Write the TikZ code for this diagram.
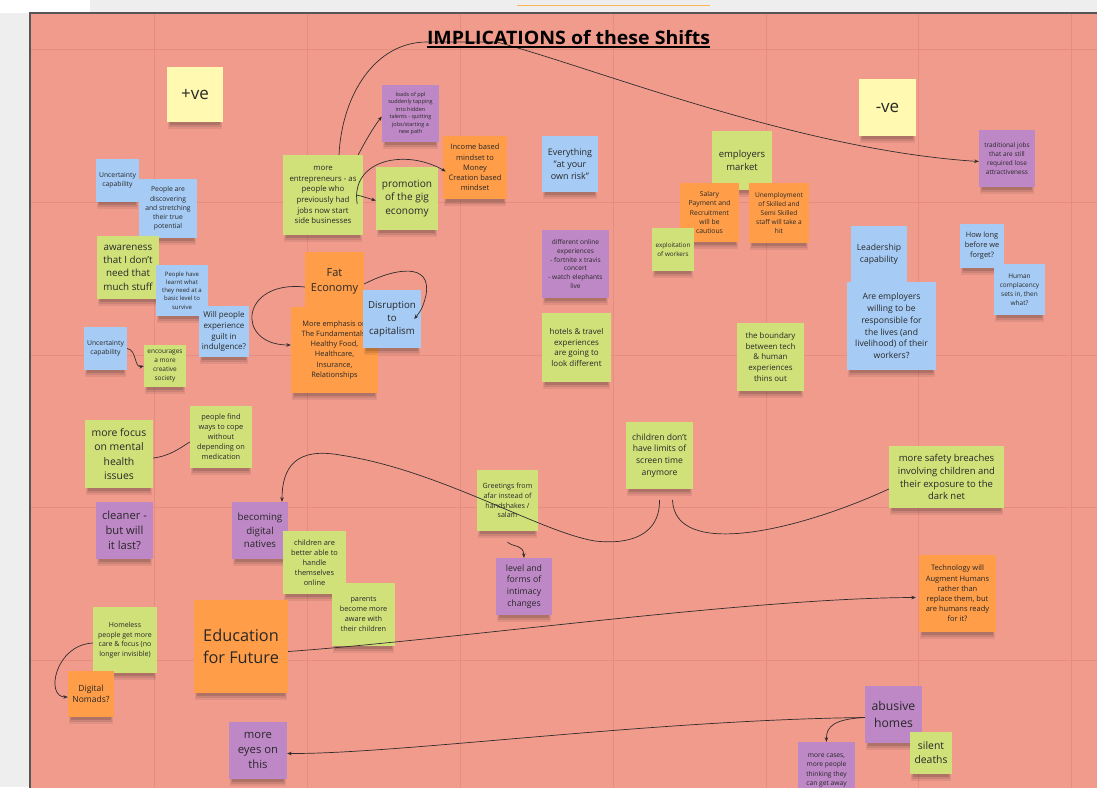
\documentclass[tikz,border=0pt]{standalone}
\usepackage{fontspec}
\usepackage{graphicx}
\setmainfont{Open Sans}
\usetikzlibrary{arrows.meta}
\definecolor{bgred}{RGB}{241,155,140}
\definecolor{gridred}{RGB}{229,142,128}
\definecolor{outgray}{RGB}{238,238,238}
\definecolor{framec}{RGB}{85,85,85}
\definecolor{nyellow}{RGB}{255,249,177}
\definecolor{nblue}{RGB}{166,204,245}
\definecolor{ngreen}{RGB}{208,225,122}
\definecolor{norange}{RGB}{255,157,72}
\definecolor{npurple}{RGB}{190,136,199}
\definecolor{ntext}{RGB}{40,40,40}
\definecolor{linec}{RGB}{50,45,45}
\definecolor{uiorange}{RGB}{255,180,90}
\tikzset{
  notebox/.style={rectangle, inner sep=1pt, align=center, text=ntext},
  conn/.style={draw=linec, line width=0.7pt},
  arr/.style={conn, -{Stealth[length=4.5pt,width=3.6pt]}},
  gridline/.style={draw=gridred, line width=0.8pt},
}
% \snote{name}{colour}{x1}{y1}{x2}{y2}{font size}{text}
\newcommand\snote[8]{%
  \fill[black,opacity=0.07] ({#3+1},{#6-2}) rectangle ({#5-1},{#6+7});
  \fill[black,opacity=0.09] ({#3+2},{#6-2}) rectangle ({#5-2},{#6+5});
  \fill[black,opacity=0.13] ({#3+3},{#6-2}) rectangle ({#5-3},{#6+3});
  \node[notebox, fill=#2, minimum width={#5-#3}, minimum height={#6-#4},
        font={\fontsize{#7}{1.36\dimexpr#7pt\relax}\selectfont}]
        (#1) at ({(#3+#5)/2},{(#4+#6)/2}) {#8};%
}
\begin{document}
\begin{tikzpicture}[x=1pt,y=-1pt]
\useasboundingbox (0,0) rectangle (1097,787);
% canvas surroundings
\fill[outgray] (0,0) rectangle (1097,787);
\fill[white] (0,0) rectangle (90,13);
\draw[uiorange, line width=1.2pt] (517,5.5) -- (710,5.5);
% frame
\fill[bgred] (30,13) rectangle (1100,790);
\foreach \gx in {154,307,460,613,766,918,1071} {\draw[gridline] (\gx,14) -- (\gx,790);}
\foreach \gy in {49,202,355,507,660} {\draw[gridline] (31,\gy) -- (1100,\gy);}
\draw[framec, line width=1.4pt] (30,790) -- (30,13) -- (1100,13);

% ---------- notes ----------
\snote{plus}{nyellow}{167}{67}{223}{122}{17}{+ve}
\snote{minus}{nyellow}{859}{79}{916}{136}{17}{-ve}

\snote{unca}{nblue}{96}{159}{139}{202}{6.8}{Uncertainty\\capability}
\snote{discover}{nblue}{139}{179}{197}{238}{6.8}{People are\\discovering\\and stretching\\their true\\potential}
\snote{aware}{ngreen}{97}{236}{159}{299}{9.8}{awareness\\that I don’t\\need that\\much stuff}
\snote{learnt}{nblue}{156}{265}{208}{316}{6.0}{People have\\learnt what\\they need at a\\basic level to\\survive}
\snote{guilt}{nblue}{199}{306}{249}{357}{8.0}{Will people\\experience\\guilt in\\indulgence?}
\snote{uncb}{nblue}{84}{327}{127}{370}{6.8}{Uncertainty\\capability}
\snote{creative}{ngreen}{144}{345}{186}{387}{6.5}{encourages\\a more\\creative\\society}

\snote{fat}{norange}{305}{252}{364}{310}{11}{Fat\\Economy}
\snote{emph}{norange}{291}{307}{378}{393}{7.4}{More emphasis on\\The Fundamentals:\\Healthy Food,\\Healthcare,\\Insurance,\\Relationships}
\snote{disrupt}{nblue}{363}{290}{421}{348}{9.7}{Disruption\\to\\capitalism}

\snote{loads}{npurple}{382}{85}{439}{142}{5.5}{loads of ppl\\suddenly tapping\\into hidden\\talents - quitting\\jobs/starting a\\new path}
\snote{entre}{ngreen}{283}{155}{363}{235}{7.8}{more\\entrepreneurs - as\\people who\\previously had\\jobs now start\\side businesses}
\snote{gig}{ngreen}{376}{167}{438}{230}{10.1}{promotion\\of the gig\\economy}
\snote{income}{norange}{443}{136}{507}{199}{7.5}{Income based\\mindset to\\Money\\Creation based\\mindset}

\snote{risk}{nblue}{542}{136}{598}{192}{9.0}{Everything\\"at your\\own risk"}
\snote{online}{npurple}{542}{230}{609}{298}{6.6}{different online\\experiences\\- fortnite x travis\\concert\\- watch elephants\\live}
\snote{empm}{ngreen}{712}{131}{772}{190}{9.5}{employers\\market}
\snote{salary}{norange}{680}{183}{739}{242}{6.8}{Salary\\Payment and\\Recruitment\\will be\\cautious}
\snote{unemp}{norange}{749}{183}{809}{243}{6.6}{Unemployment\\of Skilled and\\Semi Skilled\\staff will take a\\hit}
\snote{exploit}{ngreen}{652}{228}{694}{271}{6.3}{exploitation\\of workers}

\snote{trad}{npurple}{979}{130}{1035}{187}{6.5}{traditional jobs\\that are still\\required lose\\attractiveness}
\snote{lead}{nblue}{851}{226}{907}{282}{8.6}{Leadership\\capability}
\snote{respons}{nblue}{847}{282}{936}{370}{8.6}{Are employers\\willing to be\\responsible for\\the lives (and\\livelihood) of their\\workers?}
\snote{howlong}{nblue}{960}{224}{1004}{268}{7.4}{How long\\before we\\forget?}
\snote{compl}{nblue}{994}{264}{1045}{315}{6.5}{Human\\complacency\\sets in, then\\what?}

\snote{hotels}{ngreen}{542}{313}{611}{382}{8.0}{hotels \& travel\\experiences\\are going to\\look different}
\snote{boundary}{ngreen}{737}{323}{804}{391}{7.9}{the boundary\\between tech\\\& human\\experiences\\thins out}

\snote{mental}{ngreen}{85}{420}{153}{488}{10.4}{more focus\\on mental\\health\\issues}
\snote{cope}{ngreen}{190}{406}{252}{468}{7.4}{people find\\ways to cope\\without\\depending on\\medication}
\snote{cleaner}{npurple}{96}{502}{153}{559}{11.2}{cleaner -\\but will\\it last?}

\snote{natives}{npurple}{232}{502}{288}{559}{9.7}{becoming\\digital\\natives}
\snote{childon}{ngreen}{283}{531}{346}{594}{7.4}{children are\\better able to\\handle\\themselves\\online}
\snote{parents}{ngreen}{332}{583}{395}{646}{7.3}{parents\\become more\\aware with\\their children}

\snote{greet}{ngreen}{477}{470}{538}{531}{7.1}{Greetings from\\afar instead of\\handshakes /\\salam}
\snote{intim}{npurple}{496}{558}{552}{615}{8.7}{level and\\forms of\\intimacy\\changes}
\snote{limits}{ngreen}{626}{422}{693}{489}{8.6}{children don’t\\have limits of\\screen time\\anymore}
\snote{safety}{ngreen}{889}{446}{1004}{508}{9.5}{more safety breaches\\involving children and\\their exposure to the\\dark net}
\snote{tech}{norange}{919}{555}{996}{632}{7.5}{Technology will\\Augment Humans\\rather than\\replace them, but\\are humans ready\\for it?}

\snote{homeless}{ngreen}{93}{607}{157}{673}{7.0}{Homeless\\people get more\\care \& focus (no\\longer invisible)}
\snote{nomads}{norange}{68}{671}{114}{717}{8.5}{Digital\\Nomads?}
\snote{edu}{norange}{194}{600}{288}{693}{16.3}{Education\\for Future}
\snote{eyes}{npurple}{229}{722}{287}{779}{11.3}{more\\eyes on\\this}

\snote{abusive}{npurple}{865}{686}{922}{743}{12.2}{abusive\\homes}
\snote{silent}{ngreen}{910}{732}{952}{774}{10.4}{silent\\deaths}
\snote{cases}{npurple}{798}{742}{855}{799}{6.7}{more cases,\\more people\\thinking they\\can get away}

% ---------- connectors ----------
\draw[arr] (uncb.east) .. controls (137,350) and (134,368) .. (creative.west);
\draw[arr] ([yshift=-6pt]fat.west) .. controls (240,280) and (235,345) .. ([yshift=5pt]emph.west);
\draw[arr] ([yshift=-3pt]fat.east) .. controls (395,268) and (432,262) .. (426,295)
   .. controls (423,308) and (420,312) .. ([xshift=-7pt]disrupt.east);
\draw[arr] ([xshift=-5pt]entre.north east) .. controls (366,140) and (373,128) .. ([yshift=-3pt]loads.west);
\draw[arr] ([xshift=16pt]entre.north) .. controls (342,95) and (375,42) .. (427,42) -- (497,42)
   .. controls (600,70) and (800,150) .. ([yshift=-3pt]trad.west);
\draw[arr] ([xshift=-7pt]entre.east) .. controls (362,196) and (367,198) .. ([yshift=-2pt]gig.west);
\draw[arr] ([xshift=-6pt,yshift=-9pt]entre.east) .. controls (350,160) and (405,148) .. ([xshift=3pt,yshift=-4pt]income.west);
\draw[conn] ([yshift=-4pt]mental.east) .. controls (170,456) and (180,448) .. ([yshift=-5pt]cope.west);
\draw[arr] ([yshift=-11pt]greet.south) .. controls (515,548) and (523,544) .. (intim.north);
\draw[arr] ([yshift=-11pt]limits.south) .. controls (660,535) and (630,545) .. (595,541)
   .. controls (540,532) and (440,470) .. (340,455)
   .. controls (295,447) and (282,468) .. ([xshift=22pt]natives.north);
\draw[conn] ([xshift=13pt,yshift=-11pt]limits.south) .. controls (675,560) and (800,530) .. ([yshift=-12pt]safety.west);
\draw[arr] ([yshift=-5pt]edu.east) .. controls (450,640) and (750,598) .. ([xshift=-3pt,yshift=-4pt]tech.west);
\draw[arr] ([yshift=-3pt]homeless.west) .. controls (55,645) and (45,697) .. ([yshift=-3pt]nomads.west);
\draw[arr] ([yshift=-3pt]abusive.west) .. controls (650,720) and (400,754) .. ([yshift=-3pt]eyes.east);
\draw[arr] ([yshift=-3pt]abusive.west) .. controls (835,719) and (826,726) .. (cases.north);

% ---------- title ----------
\node[anchor=base, inner sep=0pt, text=black, font={\fontsize{18.5}{22}\selectfont\bfseries}]
  (title) at (568.5,44) {\resizebox{283pt}{\height}{IMPLICATIONS of these Shifts}};
\draw[black, line width=1.3pt] ([yshift=-3pt]title.base west) -- ([yshift=-3pt]title.base east);
\end{tikzpicture}
\end{document}
